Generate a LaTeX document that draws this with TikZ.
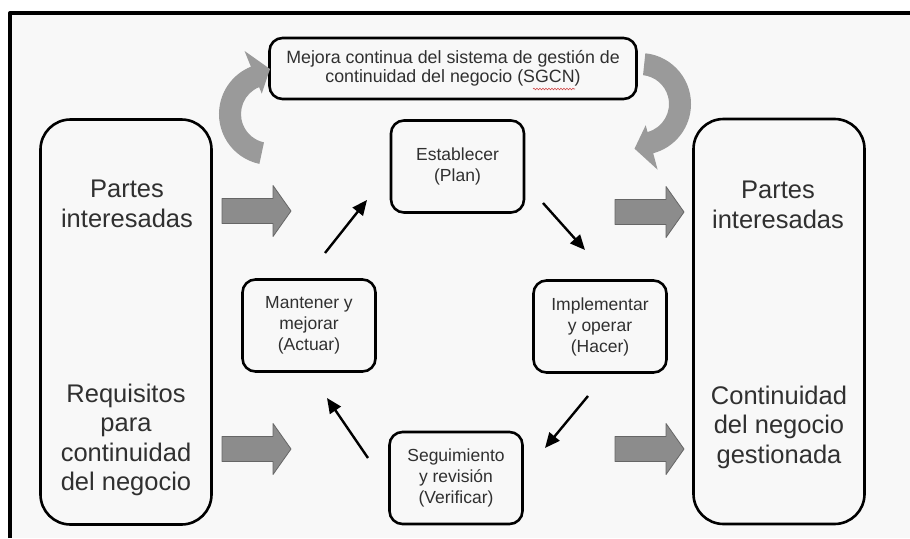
\documentclass[tikz,border=0pt]{standalone}
\usepackage{fontspec}
\setmainfont{Liberation Sans}
\usetikzlibrary{arrows.meta, positioning, calc, decorations.pathmorphing}
\definecolor{TXT_GRAY}{HTML}{303030}
\definecolor{BLOCK_GRAY}{HTML}{8C8C8C}
\definecolor{BLOCK_EDGE}{HTML}{666666}
\definecolor{CURVE_GRAY}{HTML}{9A9A9A}
\definecolor{PAPER}{HTML}{F8F8F8}
\definecolor{SPELL_RED}{HTML}{D04848}

\tikzset{
  stagebox/.style={draw, line width=2.6pt, rounded corners=13pt, minimum width=133pt,
    minimum height=92pt, align=center, text=TXT_GRAY, font=\fontsize{17.5}{21}\selectfont},
  sidebox/.style={draw, line width=2.6pt, rounded corners=30pt, minimum width=171pt,
    minimum height=405pt},
  bigtext/.style={align=center, text=TXT_GRAY, font=\fontsize{25.5}{29.5}\selectfont},
  cyclearrow/.style={line width=2.4pt, -{Triangle[length=15pt,width=13pt]}},
  pics/blockarrow/.style={code={
    \draw[fill=BLOCK_GRAY, draw=BLOCK_EDGE, line width=0.8pt]
      (0,-12.5) -- (51,-12.5) -- (51,-25.5) -- (69,0) -- (51,25.5) -- (51,12.5) -- (0,12.5) -- cycle;}}
}

\begin{document}
\begin{tikzpicture}[x=1pt, y=1pt, line join=round]
      \useasboundingbox (0,0) rectangle (910,-538);

      % Frame
      \fill[PAPER] (10,-13) rectangle (910,-538);
      \draw[line width=4pt] (10,-538) -- (10,-13) -- (910,-13);

      % Side boxes
      \node[sidebox] (lside) at (126,-322) {};
      \node[sidebox] (rside) at (779,-321.5) {};
      \node[bigtext] (lpartes) at (127,-204) {Partes\\interesadas};
      \node[bigtext] (lreq) at (126,-440) {Requisitos\\para\\continuidad\\del negocio};
      \node[bigtext] (rpartes) at (778,-205) {Partes\\interesadas};
      \node[bigtext] (rcont) at (779,-427) {Continuidad\\del negocio\\gestionada};

      % Improvement box
      \node[stagebox, minimum width=367pt, minimum height=61pt, font=\fontsize{17.8}{19.5}\selectfont]
        (mejora) at (453,-68.5) {Mejora continua del sistema de gestión de\\continuidad del negocio (SGCN)};
      \draw[SPELL_RED, line width=0.6pt, decorate, decoration={snake, amplitude=0.8pt, segment length=3pt}]
        (533,-89) -- (575,-89);

      % PDCA stages
      \node[stagebox] (plan) at (457.5,-166.5) {Establecer\\(Plan)};
      \node[stagebox] (hacer) at (600,-326.5) {Implementar\\y operar\\(Hacer)};
      \node[stagebox] (verif) at (456,-478) {Seguimiento\\y revisión\\(Verificar)};
      \node[stagebox] (actuar) at (309,-325.5) {Mantener y\\mejorar\\(Actuar)};

      % Cycle arrows
      \coordinate (actS) at (325,-253);  \coordinate (actE) at (367,-200);
      \coordinate (planS) at (543,-203); \coordinate (planE) at (585,-250);
      \coordinate (hacS) at (588,-396);  \coordinate (hacE) at (545,-448);
      \coordinate (verS) at (368,-458);  \coordinate (verE) at (327,-398);
      \draw[cyclearrow] (actS) -- (actE);
      \draw[cyclearrow] (planS) -- (planE);
      \draw[cyclearrow] (hacS) -- (hacE);
      \draw[cyclearrow] (verS) -- (verE);

      % Input and output arrows
      \pic (inTop) at (222,-211) {blockarrow};
      \pic (inBot) at (222,-449) {blockarrow};
      \pic (outTop) at (615,-212) {blockarrow};
      \pic (outBot) at (615,-449) {blockarrow};

      % Curved arrows
      \coordinate (lc) at (270,-114);
      \coordinate (rc) at (640,-104);
      \fill[CURVE_GRAY] ($(lc)+(258:51)$) arc[start angle=258, end angle=112, radius=51]
        -- ($(lc)+(112:68)$) -- ($(lc)+(90:45)$) -- ($(lc)+(112:22)$) -- ($(lc)+(112:29)$)
        arc[start angle=112, end angle=258, radius=29] -- cycle;
      \fill[CURVE_GRAY] ($(rc)+(84:51)$) arc[start angle=84, end angle=-75, radius=51]
        -- ($(rc)+(-75:68)$) -- ($(rc)+(-97:45)$) -- ($(rc)+(-75:22)$) -- ($(rc)+(-75:29)$)
        arc[start angle=-75, end angle=84, radius=29] -- cycle;
\end{tikzpicture}
\end{document}
